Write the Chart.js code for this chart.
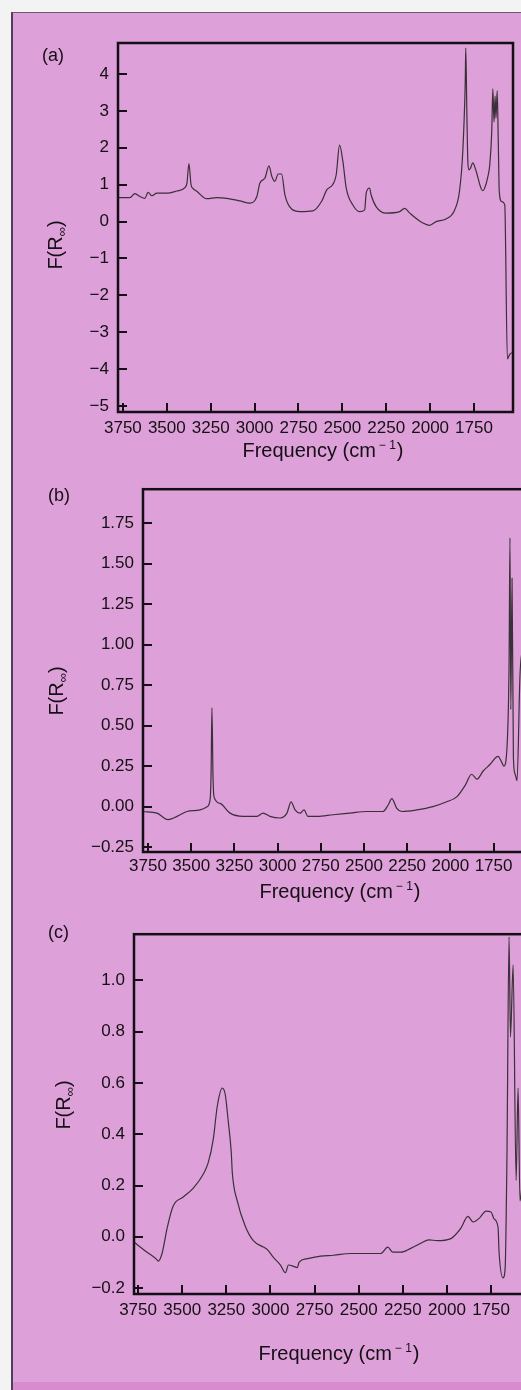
<!DOCTYPE html>
<html>
<head>
<meta charset="utf-8">
<title>DRIFT spectra (a)-(c)</title>
<script src="https://cdn.jsdelivr.net/npm/chart.js@4.4.1/dist/chart.umd.min.js"></script>
<style>
  html, body { margin: 0; padding: 0; }
  body {
    width: 521px; height: 1390px; overflow: hidden; position: relative;
    background: #f3f3f3;
  }
  .sheet {
    position: absolute; left: 11px; top: 12px; right: -40px; bottom: -10px;
    background: #dea0d8;
    border-left: 2px solid #4f3f5c;
    border-top: 1.5px solid #6e5a72;
  }
  .band {
    position: absolute; left: 13px; right: 0; top: 1382px; height: 8px;
    background: #d88ccf;
  }
  canvas { position: absolute; left: 0; }
</style>
</head>
<body>
<div class="sheet"></div>
<div class="band"></div>
<canvas id="chartA" width="521" height="470" style="top:0"></canvas>
<canvas id="chartB" width="545" height="445" style="top:470px"></canvas>
<canvas id="chartC" width="545" height="475" style="top:915px"></canvas>

<script>
/* ---------- data ---------- */
const xTicks = [3750, 3500, 3250, 3000, 2750, 2500, 2250, 2000, 1750];

const yTicksA = [4, 3, 2, 1, 0, -1, -2, -3, -4, -5];
const yLabelsA = ["4", "3", "2", "1", "0", "\u22121", "\u22122", "\u22123", "\u22124", "\u22125"];
const yTicksB = [1.75, 1.5, 1.25, 1.0, 0.75, 0.5, 0.25, 0, -0.25];
const yLabelsB = ["1.75", "1.50", "1.25", "1.00", "0.75", "0.50", "0.25", "0.00", "\u22120.25"];
const yTicksC = [1.0, 0.8, 0.6, 0.4, 0.2, 0, -0.2];
const yLabelsC = ["1.0", "0.8", "0.6", "0.4", "0.2", "0.0", "\u22120.2"];

// (a)
const freqA = [3778, 3710, 3682, 3653, 3625, 3607, 3585, 3557, 3500, 3443, 3397, 3385, 3374, 3362, 3351,
  3329, 3272, 3215, 3158, 3084, 3027, 2987, 2970, 2941, 2918, 2902, 2884, 2866, 2846, 2827, 2789, 2742,
  2668, 2618, 2589, 2554, 2535, 2516, 2497, 2478, 2440, 2402, 2373, 2364, 2345, 2336, 2307, 2250, 2174,
  2145, 2116, 2041, 2003, 1966, 1910, 1861, 1833, 1814, 1800, 1797, 1791, 1785, 1779, 1770, 1757, 1740,
  1710, 1700, 1690, 1672, 1660, 1649, 1643, 1636, 1630, 1625, 1618, 1612, 1606, 1592, 1575, 1560, 1547, 1535];
const valA = [0.65, 0.65, 0.76, 0.68, 0.63, 0.79, 0.70, 0.77, 0.77, 0.83, 0.92, 1.05, 1.57, 1.00, 0.90,
  0.82, 0.62, 0.65, 0.63, 0.56, 0.50, 0.68, 1.04, 1.18, 1.51, 1.23, 1.09, 1.29, 1.29, 0.72, 0.34, 0.27,
  0.29, 0.55, 0.86, 1.01, 1.27, 2.07, 1.63, 0.91, 0.45, 0.27, 0.32, 0.78, 0.91, 0.72, 0.40, 0.23, 0.27,
  0.36, 0.23, -0.04, -0.10, 0.0, 0.07, 0.31, 0.82, 1.9, 3.8, 4.7, 3.0, 1.6, 1.4, 1.45, 1.59, 1.4,
  0.9, 0.84, 0.9, 1.2, 1.55, 2.45, 3.6, 2.7, 3.4, 2.8, 3.55, 2.2, 0.8, 0.54, 0.46, -3.72, -3.6, -3.55];

// (b)
const freqB = [3779, 3698, 3634, 3582, 3525, 3449, 3408, 3391, 3385, 3380, 3374, 3368, 3333, 3275, 3200,
  3119, 3084, 3044, 2986, 2946, 2922, 2899, 2870, 2847, 2824, 2772, 2679, 2581, 2483, 2390, 2360, 2339,
  2310, 2281, 2194, 2101, 2021, 1963, 1915, 1877, 1846, 1810, 1771, 1724, 1701, 1690, 1672, 1660, 1655,
  1650, 1643, 1635, 1625, 1614, 1597, 1585, 1540];
const valB = [-0.03, -0.04, -0.08, -0.06, -0.03, -0.02, 0.0, 0.04, 0.2, 0.61, 0.2, 0.06, 0.02, -0.04, -0.06,
  -0.06, -0.04, -0.06, -0.07, -0.04, 0.03, -0.02, -0.04, -0.02, -0.06, -0.06, -0.05, -0.04, -0.03, -0.03, 0.01, 0.05,
  -0.01, -0.03, -0.02, 0.0, 0.03, 0.06, 0.13, 0.2, 0.17, 0.22, 0.26, 0.31, 0.27, 0.25, 0.37, 0.9, 1.66,
  0.6, 1.41, 0.3, 0.2, 0.16, 0.81, 0.95, 0.9];

// (c)
const freqC = [3773, 3756, 3699, 3642, 3636, 3614, 3585, 3551, 3494, 3437, 3380, 3352, 3324, 3301, 3273,
  3256, 3239, 3222, 3216, 3188, 3142, 3097, 3040, 3017, 2983, 2943, 2915, 2898, 2869, 2847, 2838, 2790,
  2716, 2642, 2545, 2449, 2375, 2335, 2307, 2261, 2205, 2148, 2102, 2055, 1981, 1949, 1920, 1881, 1852,
  1816, 1778, 1750, 1733, 1710, 1705, 1682, 1670, 1660, 1648, 1640, 1625, 1608, 1597, 1586, 1560, 1540];
const valC = [-0.02, -0.03, -0.06, -0.09, -0.095, -0.065, 0.035, 0.12, 0.155, 0.19, 0.245, 0.29, 0.38, 0.51, 0.58,
  0.555, 0.45, 0.33, 0.25, 0.14, 0.04, -0.015, -0.04, -0.05, -0.08, -0.11, -0.14, -0.11, -0.115, -0.12, -0.1, -0.085,
  -0.075, -0.072, -0.065, -0.065, -0.065, -0.04, -0.06, -0.06, -0.045, -0.025, -0.012, -0.015, -0.008, 0.01, 0.035, 0.08, 0.058,
  0.073, 0.1, 0.097, 0.07, 0.035, -0.055, -0.16, -0.12, 0.31, 1.17, 0.78, 1.06, 0.22, 0.58, 0.14, 0.3, 0.3];

(function () {
  "use strict";

  const INK = "#140f14";
  const LINE = "#3a3038";
  const FAMILY = "'Liberation Sans', Arial, 'DejaVu Sans', sans-serif";
  const TICK_FONT = { family: FAMILY, size: 17 };

  /* ---------- frame, inward ticks, titles ---------- */
  const frame = {
    id: "frame",
    afterDraw(chart, args, o) {
      const { ctx, chartArea: a, scales: { x, y } } = chart;
      ctx.save();
      ctx.strokeStyle = INK;
      ctx.lineWidth = 2.5;
      ctx.strokeRect(a.left, a.top, a.right - a.left, a.bottom - a.top);

      ctx.lineWidth = 2;
      ctx.beginPath();
      x.ticks.forEach((t) => {
        const px = Math.round(x.getPixelForValue(t.value));
        ctx.moveTo(px, a.bottom);
        ctx.lineTo(px, a.bottom - 9);
      });
      y.ticks.forEach((t) => {
        const py = Math.round(y.getPixelForValue(t.value));
        ctx.moveTo(a.left, py);
        ctx.lineTo(a.left + 9, py);
      });
      ctx.stroke();

      ctx.fillStyle = INK;
      ctx.textBaseline = "alphabetic";

      // panel letter
      ctx.font = "18px " + FAMILY;
      ctx.textAlign = "left";
      ctx.fillText(o.tag, o.tagX, o.tagY + 6);

      // x title: Frequency (cm^-1)
      const main = "Frequency (cm";
      ctx.font = "20px " + FAMILY;
      const w1 = ctx.measureText(main).width;
      const w3 = ctx.measureText(")").width;
      ctx.font = "12px " + FAMILY;
      const w2 = ctx.measureText("\u2212 1").width;
      const total = w1 + 3 + w2 + 1 + w3;
      let cx = o.xtX - total / 2;
      const base = o.xtY + 7;
      ctx.font = "20px " + FAMILY;
      ctx.fillText(main, cx, base);
      cx += w1 + 3;
      ctx.font = "12px " + FAMILY;
      ctx.fillText("\u2212 1", cx, base - 8);
      cx += w2 + 1;
      ctx.font = "20px " + FAMILY;
      ctx.fillText(")", cx, base);

      // y title: F(R∞), rotated
      ctx.translate(o.ytX, o.ytY);
      ctx.rotate(-Math.PI / 2);
      ctx.font = "20px " + FAMILY;
      const a1 = ctx.measureText("F(R").width;
      const a3 = ctx.measureText(")").width;
      ctx.font = "13px " + FAMILY;
      const a2 = ctx.measureText("\u221e").width;
      let tx = -(a1 + a2 + a3) / 2;
      ctx.font = "20px " + FAMILY;
      ctx.fillText("F(R", tx, 0);
      tx += a1;
      ctx.font = "13px " + FAMILY;
      ctx.fillText("\u221e", tx, 4);
      tx += a2;
      ctx.font = "20px " + FAMILY;
      ctx.fillText(")", tx, 0);
      ctx.restore();
    },
  };

  function makeChart(id, freq, vals, o) {
    return new Chart(document.getElementById(id), {
      type: "line",
      data: {
        datasets: [
          {
            data: freq.map((f, i) => ({ x: f, y: vals[i] })),
            borderColor: LINE,
            borderWidth: 1.2,
            pointRadius: 0,
            fill: false,
            cubicInterpolationMode: "monotone",
          },
        ],
      },
      options: {
        responsive: false,
        animation: false,
        events: [],
        layout: { padding: { top: o.top, right: o.right, left: 0, bottom: 0 } },
        plugins: { legend: { display: false }, tooltip: { enabled: false }, frame: o.frame },
        scales: {
          x: {
            type: "linear",
            reverse: true,
            min: o.xMin,
            max: o.xMax,
            afterBuildTicks: (s) => { s.ticks = xTicks.map((v) => ({ value: v })); },
            afterFit: (s) => { s.height = o.xh; },
            grid: { display: false, drawTicks: false },
            border: { display: false },
            ticks: {
              color: INK, font: TICK_FONT, padding: o.xPad,
              autoSkip: false, maxRotation: 0,
              callback: (v) => String(v),
            },
          },
          y: {
            type: "linear",
            min: o.yMin,
            max: o.yMax,
            afterBuildTicks: (s) => { s.ticks = o.yTicks.map((v) => ({ value: v })); },
            afterFit: (s) => { s.width = o.yw; },
            grid: { display: false, drawTicks: false },
            border: { display: false },
            ticks: {
              color: INK, font: TICK_FONT, padding: 9,
              callback: (v, i) => o.yLabels[i],
            },
          },
        },
      },
      plugins: [frame],
    });
  }

  /* ---------- (a) ---------- */
  makeChart("chartA", freqA, valA, {
    top: 43, right: 8, xh: 58, yw: 118, xPad: 6,
    xMin: 1528, xMax: 3778, yMin: -5.16, yMax: 4.84,
    yTicks: yTicksA, yLabels: yLabelsA,
    frame: { tag: "(a)", tagX: 42, tagY: 55, xtX: 323, xtY: 450, ytX: 62, ytY: 245 },
  });

  /* ---------- (b) ---------- */
  makeChart("chartB", freqB, valB, {
    top: 18, right: 15, xh: 63, yw: 143, xPad: 4,
    xMin: 1539, xMax: 3779, yMin: -0.28, yMax: 1.96,
    yTicks: yTicksB, yLabels: yLabelsB,
    frame: { tag: "(b)", tagX: 48, tagY: 25, xtX: 340, xtY: 421, ytX: 63, ytY: 221 },
  });

  /* ---------- (c) ---------- */
  makeChart("chartC", freqC, valC, {
    top: 10, right: 16, xh: 96, yw: 134, xPad: 6,
    xMin: 1535, xMax: 3773, yMin: -0.223, yMax: 1.18,
    yTicks: yTicksC, yLabels: yLabelsC,
    frame: { tag: "(c)", tagX: 48, tagY: 17, xtX: 339, xtY: 438, ytX: 70, ytY: 190 },
  });
})();
</script>
</body>
</html>
